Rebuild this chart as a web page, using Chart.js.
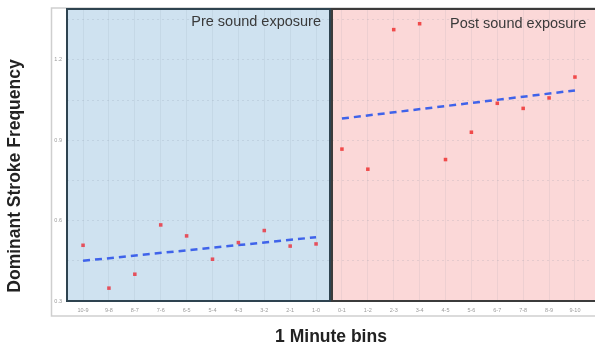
<!DOCTYPE html>
<html>
<head>
<meta charset="utf-8">
<script src="https://cdn.jsdelivr.net/npm/chart.js@4.4.1/dist/chart.umd.min.js"></script>
<style>
  html, body { margin: 0; padding: 0; background: #fff; }
  #wrap { width: 595px; height: 347px; position: relative; }
</style>
</head>
<body>
<div id="wrap"><canvas id="chart" width="595" height="347"></canvas></div>
<script>
// one-minute bins, before and after the sound exposure
const binLabels = ["10-9", "9-8", "8-7", "7-6", "6-5", "5-4", "4-3", "3-2", "2-1", "1-0",
                   "0-1", "1-2", "2-3", "3-4", "4-5", "5-6", "6-7", "7-8", "8-9", "9-10"];
const preValues = [0.508, 0.348, 0.40, 0.584, 0.543, 0.456, 0.518, 0.563, 0.505, 0.513];
const postValues = [0.867, 0.792, 1.313, 1.335, 0.828, 0.930, 1.038, 1.019, 1.058, 1.136];
// fitted trend lines, value at first and last bin of each panel
const preTrend = [0.450, 0.538];
const postTrend = [0.981, 1.086];
const yTicks = [0.3, 0.45, 0.6, 0.75, 0.9, 1.05, 1.2, 1.35];
const yLabelTicks = [0.3, 0.6, 0.9, 1.2];
const panelTitles = ["Pre sound exposure", "Post sound exposure"];

const prePoints = preValues.map((v, i) => ({ x: i, y: v }));
const postPoints = postValues.map((v, i) => ({ x: i + 10, y: v }));
const preTrendPoints = [{ x: 0, y: preTrend[0] }, { x: 9, y: preTrend[1] }];
const postTrendPoints = [{ x: 10, y: postTrend[0] }, { x: 19, y: postTrend[1] }];

const panels = {
    id: "panels",
    beforeDraw(chart) {
        const ctx = chart.ctx;
        const a = chart.chartArea;
        const mid = chart.scales.x.getPixelForValue(9.5);
        ctx.save();
        // outer frame
        ctx.strokeStyle = "#cfcfcf";
        ctx.lineWidth = 1.5;
        ctx.beginPath();
        ctx.moveTo(600, a.top - 1);
        ctx.lineTo(51.5, a.top - 1);
        ctx.lineTo(51.5, 316);
        ctx.lineTo(600, 316);
        ctx.stroke();
        ctx.fillStyle = "#cfe2f0";
        ctx.fillRect(a.left, a.top, mid - a.left + 1, a.bottom - a.top);
        ctx.fillStyle = "#fbd8d8";
        ctx.fillRect(mid + 3, a.top, 620 - mid, a.bottom - a.top);
        ctx.restore();
    },
    afterDatasetsDraw(chart) {
        const ctx = chart.ctx;
        const a = chart.chartArea;
        const mid = chart.scales.x.getPixelForValue(9.5);
        ctx.save();
        ctx.lineWidth = 2;
        ctx.strokeStyle = "#2e4350";
        ctx.strokeRect(a.left, a.top, mid - a.left + 1, a.bottom - a.top);
        ctx.strokeStyle = "#3b3b3b";
        ctx.strokeRect(mid + 3, a.top, 620 - mid, a.bottom - a.top);
        ctx.fillStyle = "#3a3a3a";
        ctx.font = "14.5px 'Liberation Sans', Arial, sans-serif";
        ctx.textBaseline = "middle";
        ctx.textAlign = "right";
        ctx.fillText(panelTitles[0], mid - 8, a.top + 13);
        ctx.textAlign = "left";
        ctx.fillText(panelTitles[1], 450, a.top + 15);
        // axis titles
        ctx.fillStyle = "#222";
        ctx.font = "bold 17.5px 'Liberation Sans', Arial, sans-serif";
        ctx.textAlign = "center";
        ctx.fillText("1 Minute bins", 331, 337);
        ctx.translate(15, 176);
        ctx.rotate(-Math.PI / 2);
        ctx.fillText("Dominant Stroke Frequency", 0, 0);
        ctx.restore();
    }
};

new Chart(document.getElementById("chart"), {
    type: "scatter",
    data: {
        datasets: [
            {
                data: prePoints,
                pointStyle: "rect",
                pointRadius: 2.5,
                backgroundColor: "#e5505c",
                borderWidth: 0
            },
            {
                data: postPoints,
                pointStyle: "rect",
                pointRadius: 2.5,
                backgroundColor: "#f04a4a",
                borderWidth: 0
            },
            {
                type: "line",
                data: preTrendPoints,
                borderColor: "#3f63ea",
                borderWidth: 2.5,
                borderDash: [7, 5],
                pointRadius: 0,
                fill: false
            },
            {
                type: "line",
                data: postTrendPoints,
                borderColor: "#3f63ea",
                borderWidth: 2.5,
                borderDash: [7, 5],
                pointRadius: 0,
                fill: false
            }
        ]
    },
    options: {
        responsive: false,
        animation: false,
        layout: { padding: { left: 0, right: 2, top: 9, bottom: 0 } },
        plugins: {
            legend: { display: false },
            tooltip: { enabled: false }
        },
        scales: {
            x: {
                type: "linear",
                min: -0.62,
                max: 19.62,
                afterFit: s => { s.height = 46; },
                afterBuildTicks: s => { s.ticks = binLabels.map((l, i) => ({ value: i })); },
                ticks: {
                    autoSkip: false,
                    maxRotation: 0,
                    padding: 6,
                    color: "#9a9a9a",
                    font: { size: 5.5, family: "'Liberation Sans', Arial, sans-serif" },
                    callback: v => binLabels[v]
                },
                grid: { color: "rgba(120,130,150,0.1)", drawTicks: false },
                border: { display: false }
            },
            y: {
                min: 0.3,
                max: 1.39,
                afterFit: s => { s.width = 67; },
                afterBuildTicks: s => { s.ticks = yTicks.map(v => ({ value: v })); },
                ticks: {
                    padding: 5,
                    color: "#9a9a9a",
                    font: { size: 5.5, family: "'Liberation Sans', Arial, sans-serif" },
                    callback: v => yLabelTicks.some(t => Math.abs(t - v) < 1e-6) ? v.toFixed(1) : ""
                },
                grid: { color: "rgba(120,130,150,0.16)", drawTicks: false },
                border: { display: false, dash: [2, 3] }
            }
        }
    },
    plugins: [panels]
});
</script>
</body>
</html>
